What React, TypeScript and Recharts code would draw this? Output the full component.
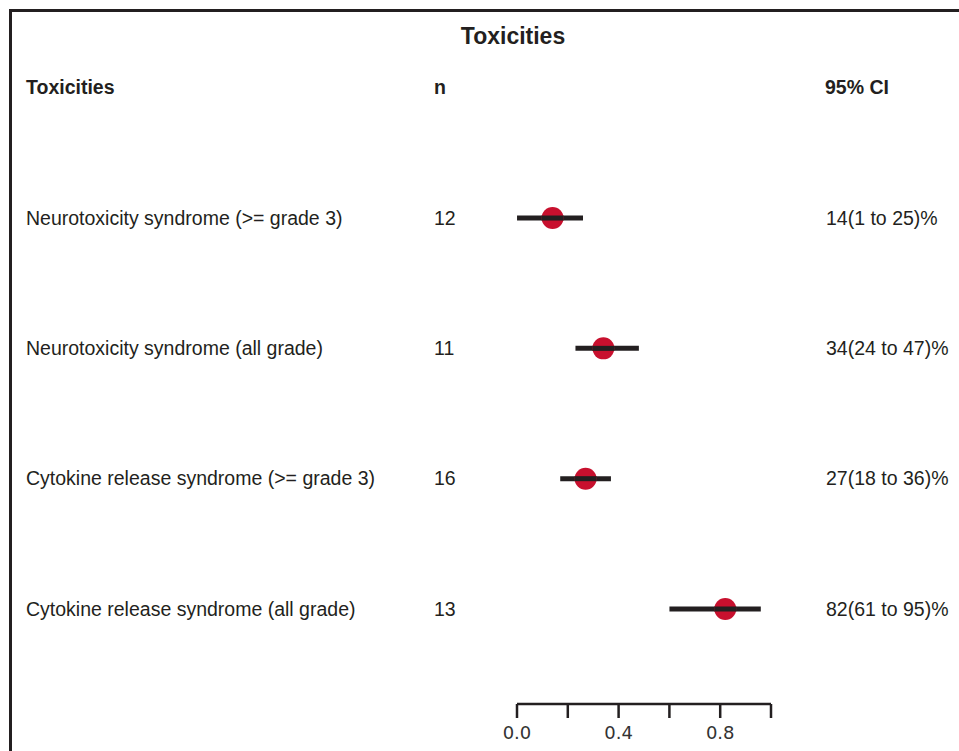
import React from 'react';
import { ScatterChart, Scatter, XAxis, YAxis } from 'recharts';

const toxicities = [
  'Neurotoxicity syndrome (>= grade 3)',
  'Neurotoxicity syndrome (all grade)',
  'Cytokine release syndrome (>= grade 3)',
  'Cytokine release syndrome (all grade)',
];
const counts = [12, 11, 16, 13];
const estimates = [0.14, 0.34, 0.27, 0.82];
const lower = [0.01, 0.24, 0.18, 0.61];
const upper = [0.25, 0.47, 0.36, 0.95];

const xTicks = [0, 0.2, 0.4, 0.6, 0.8, 1.0];
const xTickLabels = ['0.0', '', '0.4', '', '0.8', ''];

const rows = toxicities.map((name, i) => ({
  row: i,
  name,
  n: counts[i],
  est: estimates[i],
  lo: lower[i],
  hi: upper[i],
}));

const segments = rows.map((r) => [
  { est: r.lo, row: r.row },
  { est: r.hi, row: r.row },
]);

const pct = (v: number) => Math.round(v * 100);
const ciText = (r: (typeof rows)[number]) => `${pct(r.est)}(${pct(r.lo)} to ${pct(r.hi)})%`;

const FONT = '"Liberation Sans", Arial, Helvetica, sans-serif';
const INK = '#231f20';
const RED = '#c8102e';
const DOT_R = 11;
const CI_W = 5;

const RowTick = (props: any) => {
  const { y, payload } = props;
  const r = rows[payload.value];
  if (!r) return null;
  const common = { y, dy: '0.35em', fill: INK, fontSize: 19.5, fontFamily: FONT, textAnchor: 'start' as const };
  return (
    <g>
      <text x={26} {...common}>{r.name}</text>
      <text x={434} {...common}>{r.n}</text>
      <text x={826} {...common}>{ciText(r)}</text>
    </g>
  );
};

// the CI stroke runs over the dot in the original, so repeat it across the circle
const DotShape = (p: any) => (
  <g>
    <circle cx={p.cx} cy={p.cy} r={DOT_R} fill={RED} />
    <rect x={p.cx - DOT_R} y={p.cy - CI_W / 2} width={DOT_R * 2} height={CI_W} fill={INK} />
  </g>
);

const header: React.CSSProperties = {
  position: 'absolute',
  top: 88,
  transform: 'translateY(-50%)',
  fontFamily: FONT,
  fontWeight: 'bold',
  fontSize: 19.5,
  lineHeight: 1,
  color: INK,
  whiteSpace: 'nowrap',
};

const noSymbol = () => <g />;

export default function App() {
  return (
    <div style={{ position: 'absolute', left: 0, top: 0, width: 959, height: 751, overflow: 'hidden', background: '#fff' }}>
      <div
        style={{
          position: 'absolute',
          left: 9,
          top: 9,
          width: 1100,
          height: 900,
          border: `3px solid ${INK}`,
        }}
      />
      <div
        style={{
          ...header,
          top: 36,
          left: 513,
          transform: 'translate(-50%, -50%)',
          fontSize: 23,
        }}
      >
        Toxicities
      </div>
      <div style={{ ...header, left: 26 }}>Toxicities</div>
      <div style={{ ...header, left: 434 }}>n</div>
      <div style={{ ...header, left: 825 }}>95% CI</div>

      <div style={{ position: 'absolute', left: 0, top: 0 }}>
        <ScatterChart width={959} height={751} margin={{ top: 0, right: 188, bottom: 0, left: 0 }}>
          <XAxis
            type="number"
            dataKey="est"
            domain={[0, 1]}
            ticks={xTicks}
            allowDataOverflow
            tickFormatter={(v: number) => xTickLabels[xTicks.indexOf(v)] ?? ''}
            height={47}
            tickSize={14}
            tickMargin={8}
            axisLine={{ stroke: INK, strokeWidth: 2.5 }}
            tickLine={{ stroke: INK, strokeWidth: 2.5 }}
            tick={{ fill: '#333', fontSize: 18, fontFamily: '"DejaVu Sans", Verdana, sans-serif' }}
          />
          <YAxis
            type="number"
            dataKey="row"
            domain={[-1.673, 3.729]}
            allowDataOverflow
            reversed
            ticks={[0, 1, 2, 3]}
            width={517}
            axisLine={false}
            tickLine={false}
            tick={<RowTick />}
            interval={0}
          />
          {segments.map((seg, i) => (
            <Scatter
              key={`ci-${i}`}
              data={seg}
              isAnimationActive={false}
              line={{ stroke: INK, strokeWidth: CI_W, strokeLinecap: 'square' }}
              lineType="joint"
              shape={noSymbol}
            />
          ))}
          <Scatter data={rows} isAnimationActive={false} shape={DotShape} />
        </ScatterChart>
      </div>
    </div>
  );
}
